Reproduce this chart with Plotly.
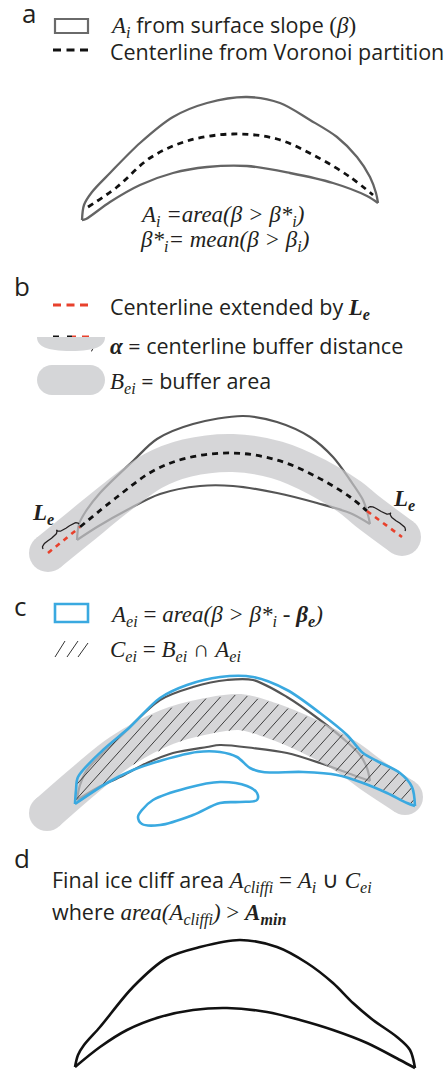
import numpy as np
import plotly.graph_objects as go

W, H = 448, 1072
INK = "#231f20"
OUT_GRAY = "#646464"
BUF_T = "rgb(198,198,201)"
BUF_SOLID = "#d5d6d8"
BLUE = "#3aa9e0"
RED = "#e8412c"
SANS = "Open Sans"
SERIF = "Liberation Serif"
FS = 21.5
FSS = 23

# ---------------- panel a ----------------
a_top_x = [82, 84, 92, 110, 140, 173, 207, 247, 280, 310, 337, 357, 370, 376, 378]
a_top_y = [220, 205, 192, 173, 143, 117, 103, 97, 103, 120, 137, 157, 177, 193, 203]
a_bot_x = [82, 86, 110, 140, 173, 207, 247, 290, 333, 367, 378]
a_bot_y = [220, 219, 202, 185, 173, 167, 166, 173, 183, 196, 203]
a_cl_x = [88, 117, 150, 187, 233, 277, 317, 350, 373]
a_cl_y = [207, 187, 158, 141, 134, 139, 157, 177, 195]

# ---------------- panel b ----------------
b_top_x = [77, 79, 86, 100, 133, 157, 193, 243, 277, 310, 333, 350, 363, 368, 370]
b_top_y = [540, 524, 511, 493, 461, 439, 424, 416, 422, 437, 457, 480, 500, 515, 524]
b_bot_x = [77, 97, 127, 160, 200, 233, 277, 317, 350, 370]
b_bot_y = [540, 527, 510, 494, 486, 486, 493, 503, 513, 524]
b_cl_x = [80, 117, 153, 187, 233, 277, 317, 350, 367]
b_cl_y = [527, 497, 471, 458, 453, 460, 477, 497, 511]
b_extL_x = [48, 80]
b_extL_y = [553, 527]
b_extR_x = [367, 402]
b_extR_y = [511, 537]
b_buf_x = [48, 80, 117, 153, 187, 233, 277, 317, 350, 367, 402]
b_buf_y = [553, 527, 497, 471, 458, 453, 460, 477, 497, 511, 537]

# ---------------- panel c ----------------
c_buf_x = [47, 85, 120, 167, 207, 240, 270, 313, 347, 373, 405]
c_buf_y = [813, 780, 752, 727, 716, 712, 720, 738, 757, 776, 797]
c_ai_top_x = [77, 80, 87, 120, 160, 193, 227, 253, 287, 320, 347, 360, 367, 370]
c_ai_top_y = [800, 785, 770, 737, 700, 687, 680, 680, 697, 720, 742, 755, 768, 781]
c_ai_bot_x = [77, 97, 120, 147, 173, 207, 220, 253, 287, 320, 353, 370]
c_ai_bot_y = [800, 788, 777, 763, 753, 747, 745, 748, 753, 763, 775, 781]
c_blue_top_x = [75, 76, 78, 103, 130, 160, 187, 220, 253, 287, 320, 347, 363, 377, 400, 412, 415]
c_blue_top_y = [804, 790, 777, 750, 727, 698, 685, 677, 677, 690, 713, 735, 753, 761, 773, 787, 806]
c_blue_bot_x = [415, 407, 387, 363, 337, 303, 263, 250, 237, 220, 197, 163, 133, 107, 75]
c_blue_bot_y = [806, 803, 793, 783, 775, 772, 772, 768, 757, 752, 752, 760, 770, 783, 804]
c_blob_x = [138, 142, 153, 187, 220, 247, 257, 257, 240, 220, 193, 160, 142, 138]
c_blob_y = [817, 810, 800, 788, 782, 786, 793, 800, 802, 803, 815, 825, 824, 817]

# ---------------- panel d ----------------
d_top_x = [75, 78, 84, 100, 133, 167, 200, 240, 277, 307, 333, 353, 373, 397, 410, 415]
d_top_y = [1067, 1055, 1045, 1027, 987, 958, 947, 940, 947, 963, 983, 1003, 1020, 1037, 1050, 1068]
d_bot_x = [75, 100, 127, 160, 193, 227, 267, 300, 333, 367, 400, 415]
d_bot_y = [1067, 1047, 1030, 1017, 1010, 1008, 1012, 1020, 1030, 1043, 1060, 1068]

BUF_W = 38
C_BUF_W = 36


def S(t, size=None):
    extra = f";font-size:{size}px" if size else ""
    return f"<span style='font-family:{SERIF}{extra}'>{t}</span>"


fig = go.Figure()


def curve(x, y, color, width, dash=None, smoothing=1.0, shape="spline", opacity=1.0):
    fig.add_trace(go.Scatter(
        x=x, y=y, mode="lines", hoverinfo="skip", showlegend=False, opacity=opacity,
        line=dict(color=color, width=width, dash=dash, shape=shape, smoothing=smoothing),
    ))


def outline(tx, ty, bx, by, color, width):
    curve(list(tx) + [None] + list(bx), list(ty) + [None] + list(by), color, width, smoothing=0.9)


def band(x, y, width, color, opacity=1.0):
    sizes = [width] + [0] * (len(x) - 2) + [width]
    fig.add_trace(go.Scatter(
        x=x, y=y, mode="lines+markers", hoverinfo="skip", showlegend=False, opacity=opacity,
        line=dict(color=color, width=width, shape="spline", smoothing=1.0),
        marker=dict(size=sizes, color=color, opacity=1, line=dict(width=0)),
    ))


def brace(p0, p1, depth, color=INK, width=1.3):
    p0 = np.array(p0, float); p1 = np.array(p1, float)
    d = p1 - p0
    L = np.hypot(*d)
    u = d / L
    n = np.array([u[1], -u[0]])
    q = min(L * 0.2, depth * 1.2)
    tt = np.linspace(0, 1, 12)

    def quad(a, c, b):
        a, c, b = map(np.array, (a, c, b))
        return [(1 - s) ** 2 * a + 2 * (1 - s) * s * c + s ** 2 * b for s in tt]

    h = depth / 2.0
    pts = []
    pts += quad((0, 0), (0, h), (q, h))
    pts += quad((L / 2 - q, h), (L / 2, h), (L / 2, depth))
    pts += quad((L / 2, depth), (L / 2, h), (L / 2 + q, h))
    pts += quad((L - q, h), (L, h), (L, 0))
    xs = [p0[0] + a * u[0] + b * n[0] for a, b in pts]
    ys = [p0[1] + a * u[1] + b * n[1] for a, b in pts]
    curve(xs, ys, color, width, shape="linear")


def text(x, y, t, size=FS, family=SANS, anchor="left", color=INK):
    fig.add_annotation(x=x, y=y, text=t, showarrow=False, xanchor=anchor, yanchor="middle",
                       font=dict(family=family, size=size, color=color), xref="x", yref="y")


# ---- panel a ----
outline(a_top_x, a_top_y, a_bot_x, a_bot_y, OUT_GRAY, 2.3)
curve(a_cl_x, a_cl_y, "#111", 2.8, dash="6px,5px")

# ---- panel b ----
outline(b_top_x, b_top_y, b_bot_x, b_bot_y, "#555555", 2.2)
band(b_buf_x, b_buf_y, BUF_W, BUF_T, opacity=0.72)
curve(b_cl_x, b_cl_y, "#111", 2.8, dash="6px,5px")
curve(b_extL_x, b_extL_y, RED, 2.6, dash="5px,5px", shape="linear")
curve(b_extR_x, b_extR_y, RED, 2.6, dash="5px,5px", shape="linear")
brace((43, 549), (79, 524), 8)
brace((368, 508), (405, 531), 8)

# ---- panel c ----
outline(c_ai_top_x, c_ai_top_y, c_ai_bot_x, c_ai_bot_y, "#555555", 2.2)
band(c_buf_x, c_buf_y, C_BUF_W, BUF_T, opacity=0.72)


def pip(px, py, polx, poly):
    polx = np.asarray(polx, float); poly = np.asarray(poly, float)
    inside = np.zeros(px.shape, bool)
    j = len(polx) - 1
    for i in range(len(polx)):
        xi, yi, xj, yj = polx[i], poly[i], polx[j], poly[j]
        cond = ((yi > py) != (yj > py)) & (px < (xj - xi) * (py - yi) / (yj - yi + 1e-12) + xi)
        inside ^= cond
        j = i
    return inside


def dist_polyline(px, py, lx, ly):
    d = np.full(px.shape, np.inf)
    for k in range(len(lx) - 1):
        ax, ay, bx, by = lx[k], ly[k], lx[k + 1], ly[k + 1]
        vx, vy = bx - ax, by - ay
        t = np.clip(((px - ax) * vx + (py - ay) * vy) / (vx * vx + vy * vy), 0, 1)
        d = np.minimum(d, np.hypot(px - (ax + t * vx), py - (ay + t * vy)))
    return d


blue_px = c_blue_top_x + c_blue_bot_x
blue_py = c_blue_top_y + c_blue_bot_y
tan_h = np.tan(np.radians(48))
hx, hy = [], []
for cc in np.arange(640, 1200, 13.0):
    xs = np.arange(40, 430, 0.25)
    ys = (cc - xs) * tan_h
    m = pip(xs, ys, blue_px, blue_py) & (dist_polyline(xs, ys, c_buf_x, c_buf_y) <= C_BUF_W / 2 - 0.5)
    if not m.any():
        continue
    idx = np.flatnonzero(m)
    splits = np.flatnonzero(np.diff(idx) > 1)
    starts = np.r_[idx[0], idx[splits + 1]]
    ends = np.r_[idx[splits], idx[-1]]
    for s0, e0 in zip(starts, ends):
        if e0 - s0 < 4:
            continue
        hx += [xs[s0], xs[e0], None]
        hy += [ys[s0], ys[e0], None]
curve(hx, hy, "#2a2a2a", 0.9, shape="linear")

curve(c_blue_top_x + [None] + c_blue_bot_x, c_blue_top_y + [None] + c_blue_bot_y, BLUE, 2.6, smoothing=0.9)
curve(c_blob_x, c_blob_y, BLUE, 2.6, smoothing=1.0)

# ---- panel d ----
outline(d_top_x, d_top_y, d_bot_x, d_bot_y, "#111111", 2.6)

# ---------------- legend icons ----------------
shapes = []
shapes.append(dict(type="rect", x0=55, x1=88, y0=19, y1=33, line=dict(color="#6a6a6a", width=2.2)))
shapes.append(dict(type="rect", x0=55, x1=88, y0=604, y1=622, line=dict(color=BLUE, width=2.6)))
shapes.append(dict(type="path", path="M 37,337 L 105,337 C 105,346 96,351 71,351 C 46,351 37,346 37,337 Z",
                   fillcolor=BUF_SOLID, line=dict(width=0)))
shapes.append(dict(type="path",
                   path="M 52,365 L 90,365 C 98.3,365 105,371.7 105,380 C 105,388.3 98.3,395 90,395 "
                        "L 52,395 C 43.7,395 37,388.3 37,380 C 37,371.7 43.7,365 52,365 Z",
                   fillcolor=BUF_SOLID, line=dict(width=0)))
fig.update_layout(shapes=shapes)

curve([53, 88], [50, 50], "#111", 2.8, dash="8px,5.5px", shape="linear")
curve([53, 88], [305, 305], RED, 2.8, dash="8px,5.5px", shape="linear")
curve([53, 59], [337, 337], "#111", 3, shape="linear")
curve([67, 72], [337, 337], "#111", 3, shape="linear")
curve([72, 76], [337, 337], RED, 3, shape="linear")
curve([82, 89], [337, 337], RED, 3, shape="linear")
brace((91, 338), (91, 351), 3.5, width=1.0)
curve([55, 65, None, 67, 78, None, 78, 88], [657, 641, None, 657, 641, None, 657, 643], "#333", 1.0,
      shape="linear")

# ---------------- texts ----------------
text(20, 13, "a", size=26)
text(12, 286, "b", size=26)
text(12, 606, "c", size=26)
text(12, 858, "d", size=26)

text(108, 25, S("<i>A<sub>i</sub></i>", 23) + " from surface slope " + S("(<i>β</i>)", 23))
text(108, 51, "Centerline from Voronoi partition")
text(138, 216, S("<i>A<sub>i</sub> =area(β &gt; β*<sub>i</sub>)</i>"), family=SERIF, size=FSS)
text(138, 241, S("<i>β*<sub>i</sub>= mean(β &gt; β<sub>i</sub>)</i>"), family=SERIF, size=FSS)

text(108, 307, "Centerline extended by " + S("<b><i>L<sub>e</sub></i></b>", 23))
text(108, 345, S("<b><i>α</i></b>", 23) + " = centerline buffer distance")
text(108, 381, S("<i>B<sub>ei</sub></i>", 23) + " = buffer area")
text(30, 514, S("<b><i>L<sub>e</sub></i></b>"), family=SERIF, size=FSS)
text(391, 500, S("<b><i>L<sub>e</sub></i></b>"), family=SERIF, size=FSS)

text(108, 616, S("<i>A<sub>ei</sub></i> = <i>area(β &gt; β*<sub>i</sub> - <b>β<sub>e</sub></b>)</i>"),
     family=SERIF, size=FSS)
text(108, 651, S("<i>C<sub>ei</sub></i> = <i>B<sub>ei</sub></i> ∩ <i>A<sub>ei</sub></i>"), family=SERIF, size=FSS)

text(50, 881, "Final ice cliff area "
     + S("<i>A<sub>cliffi</sub></i> = <i>A<sub>i</sub></i> ∪ <i>C<sub>ei</sub></i>", 23))
text(50, 913, "where " + S("<i>area(A<sub>cliffi</sub>)</i> &gt; <b><i>A<sub>min</sub></i></b>", 23))

fig.update_layout(
    width=W, height=H, autosize=False,
    margin=dict(l=0, r=0, t=0, b=0, pad=0),
    paper_bgcolor="white", plot_bgcolor="white",
    xaxis=dict(range=[0, W], visible=False, fixedrange=True),
    yaxis=dict(range=[H, 0], visible=False, fixedrange=True),
    showlegend=False,
    font=dict(family=SANS, size=FS, color=INK),
)

fig.write_html("out.html", include_plotlyjs=True, config={"displayModeBar": False, "staticPlot": True},
               post_script="document.body.style.margin='0px';")
